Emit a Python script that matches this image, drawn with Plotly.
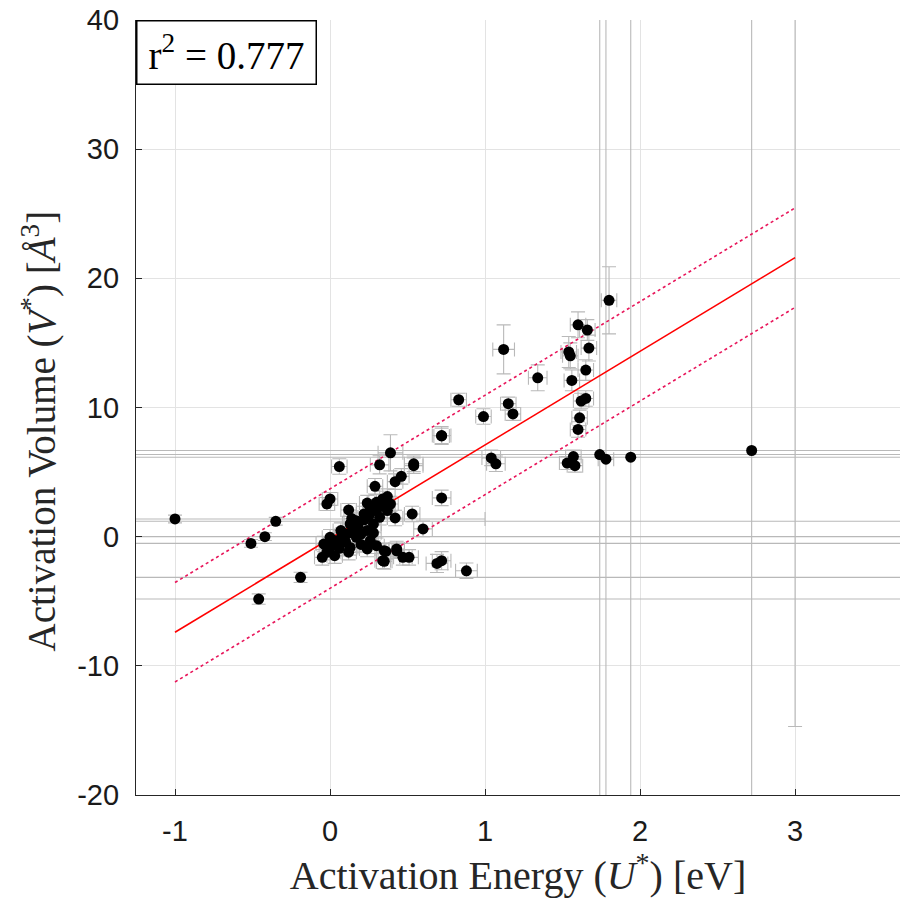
import plotly.graph_objects as go

# ---------------- data ----------------
energy_x = [
    -1.00, -0.51, -0.42, -0.35, -0.19, -0.46,
    0.06, 0.00, -0.02, 0.12, 0.32, 0.39, 0.54, 0.54, 0.46, 0.42, 0.29, 0.37, 0.39,
    0.72, 0.53, 0.42, 0.60, 0.72, 1.04, 1.07,
    0.36, 0.43, 0.35, 0.47, 0.51, 0.69, 0.72, 0.88,
    -0.04, 0.00, 0.07, 0.13, 0.17, 0.22, 0.26, 0.30, 0.34, 0.11, 0.17, 0.24, 0.28,
    0.32, 0.37, 0.04, 0.00, -0.05, 0.03, 0.13, 0.24, 0.35, 0.43, 0.34,
    0.08, 0.15, 0.20, 0.22, 0.25, 0.18, 0.10, 0.06, 0.20, 0.28, 0.30, 0.33,
    0.14, 0.26, 0.12, -0.02, 0.02, 0.24, 0.36, 0.30,
    1.80, 1.60, 1.66, 1.67, 1.12, 1.54, 1.55, 1.34, 1.65, 1.56, 1.65, 1.62,
    1.61, 1.60, 1.15, 1.18, 0.83, 0.99, 0.72,
    1.53, 1.57, 1.58, 1.74, 1.78, 1.94, 2.72, 3.00,
]
volume_y = [
    1.37, -0.52, 0.00, 1.19, -3.15, -4.83,
    5.43, 2.92, 2.53, 2.07, 5.56, 6.49, 5.64, 5.50, 4.67, 4.26, 3.90, 3.10, 2.53,
    3.00, 1.76, 1.45, 0.60, 7.83, 6.10, 5.64,
    -1.14, -1.09, -1.91, -1.60, -1.60, -2.07, -1.86, -2.64,
    -0.57, -0.05, 0.47, 0.98, 1.24, 1.76, 2.27, 2.66, 2.92, 0.21, -0.05, 0.47, 0.98,
    1.50, 2.02, -0.31, -0.83, -1.60, -1.47, -0.83, -0.95, -1.09, -0.95, -1.86,
    0.10, 0.50, 0.20, 1.30, 1.60, 0.80, -0.40, -0.90, -0.60, 0.30, 2.00, 2.40,
    1.40, -0.30, -1.20, -1.20, -0.60, 2.60, 2.50, -0.70,
    18.30, 16.40, 16.00, 14.60, 14.50, 14.30, 14.00, 12.30, 12.90, 12.10, 10.70, 10.50,
    9.20, 8.30, 10.30, 9.50, 10.60, 9.30, 7.80,
    5.70, 6.20, 5.50, 6.36, 6.00, 6.15, 6.67, 45.00,
]
energy_err = [
    2.00, 20.0, 20.0, 20.0, 20.0, 20.0,
    0.05, 0.05, 0.05, 0.05, 0.06, 0.08, 0.06, 0.06, 0.05, 0.05, 0.05, 0.05, 0.05,
    0.06, 0.05, 0.05, 0.06, 0.06, 0.06, 0.06,
    0.05, 0.05, 0.05, 0.06, 0.06, 0.07, 0.06, 0.07,
    0.05, 0.05, 0.05, 0.05, 0.05, 0.05, 0.05, 0.05, 0.05, 0.05, 0.05, 0.05, 0.05,
    0.05, 0.05, 0.05, 0.05, 0.05, 0.05, 0.05, 0.05, 0.05, 0.05, 0.05,
    0.05, 0.05, 0.05, 0.05, 0.05, 0.05, 0.05, 0.05, 0.05, 0.05, 0.05, 0.05,
    0.05, 0.05, 0.05, 0.05, 0.05, 0.05, 0.05, 0.05,
    0.05, 0.05, 0.05, 0.05, 0.07, 0.05, 0.05, 0.06, 0.05, 0.05, 0.05, 0.05,
    0.05, 0.05, 0.05, 0.05, 0.05, 0.05, 0.05,
    0.05, 0.05, 0.05, 20.0, 0.05, 20.0, 20.0, 0.05,
]
volume_err = [
    0.30, 0.30, 0.30, 0.30, 0.40, 0.40,
    0.60, 0.50, 0.50, 0.50, 0.70, 1.40, 0.60, 0.60, 0.60, 0.60, 0.60, 0.60, 0.60,
    0.60, 0.60, 0.60, 0.60, 0.70, 0.60, 0.60,
    0.60, 0.60, 0.60, 0.60, 0.60, 0.70, 0.70, 0.60,
    0.60, 0.60, 0.60, 0.60, 0.60, 0.60, 0.60, 0.60, 0.60, 0.60, 0.60, 0.60, 0.60,
    0.60, 0.60, 0.60, 0.60, 0.60, 0.60, 0.60, 0.60, 0.60, 0.60, 0.60,
    0.60, 0.60, 0.60, 0.60, 0.60, 0.60, 0.60, 0.60, 0.60, 0.60, 0.60, 0.60,
    0.60, 0.60, 0.60, 0.60, 0.60, 0.60, 0.60, 0.60,
    2.60, 1.00, 0.80, 1.00, 1.90, 1.20, 1.00, 1.00, 0.80, 0.80, 0.60, 0.60,
    0.60, 0.60, 0.50, 0.50, 0.50, 0.60, 0.60,
    0.50, 0.50, 0.50, 60.0, 60.0, 60.0, 60.0, 59.7,
]

fit_x = [-1.0, 3.0]
fit_y = [-7.4, 21.6]
band_offset = 3.85

x_tick_vals = [-1, 0, 1, 2, 3]
x_tick_text = ["-1", "0", "1", "2", "3"]
y_tick_vals = [-20, -10, 0, 10, 20, 30, 40]
y_tick_text = ["-20", "-10", "0", "10", "20", "30", "40"]

x_title = "Activation Energy (<i>U</i><sup>*</sup>) [eV]"
y_title = "Activation Volume (<i>V</i><sup>*</sup>) [<i>Å</i><sup>3</sup>]"
r2_text = "r<sup>2</sup> = 0.777"

# ---------------- figure ----------------
fig = go.Figure()

# error bars (underneath everything)
fig.add_trace(go.Scatter(
    x=energy_x, y=volume_y, mode="markers",
    marker=dict(color="rgba(0,0,0,0)", size=1),
    error_x=dict(type="data", array=energy_err, color="#b9b9b9", thickness=1.1, width=7),
    error_y=dict(type="data", array=volume_err, color="#b9b9b9", thickness=1.1, width=7),
    showlegend=False, hoverinfo="skip",
))

# regression line with dotted band
fig.add_trace(go.Scatter(x=fit_x, y=fit_y, mode="lines",
                         line=dict(color="#ff0000", width=1.6), showlegend=False))
fig.add_trace(go.Scatter(x=fit_x, y=[v + band_offset for v in fit_y], mode="lines",
                         line=dict(color="#e8155a", width=1.6, dash="dot"), showlegend=False))
fig.add_trace(go.Scatter(x=fit_x, y=[v - band_offset for v in fit_y], mode="lines",
                         line=dict(color="#e8155a", width=1.6, dash="dot"), showlegend=False))

# points
fig.add_trace(go.Scatter(
    x=energy_x, y=volume_y, mode="markers",
    marker=dict(color="black", size=11, line=dict(width=0)),
    showlegend=False,
))

axis_common = dict(
    showgrid=True, gridcolor="#e3e3e3", gridwidth=1,
    zeroline=False, showline=True, linecolor="#262626", linewidth=1.2,
    ticks="inside", ticklen=6, tickwidth=1.2, tickcolor="#262626",
    tickfont=dict(family="Liberation Sans, Arial, sans-serif", size=29, color="#1a1a1a"),
    mirror=False,
)

serif = "Liberation Serif, DejaVu Serif, serif"

fig.update_layout(
    width=900, height=901,
    margin=dict(l=136, r=0, t=20, b=106),
    paper_bgcolor="white", plot_bgcolor="white",
    xaxis=dict(
        range=[-1.2516, 3.677], tickvals=x_tick_vals, ticktext=x_tick_text,
        ticklabelstandoff=10,
        title=dict(text=x_title, font=dict(family=serif, size=40, color="#262626"), standoff=2),
        **axis_common,
    ),
    yaxis=dict(
        range=[-20, 40], tickvals=y_tick_vals, ticktext=y_tick_text,
        ticklabelstandoff=10,
        **axis_common,
    ),
    annotations=[
        dict(
            text=r2_text, xref="paper", yref="paper", x=0, y=1,
            xanchor="left", yanchor="top", showarrow=False,
            font=dict(family=serif, size=39, color="black"),
            bgcolor="white", bordercolor="black", borderwidth=1.5,
            width=176, height=60, align="center", valign="middle",
        ),
        dict(
            text=y_title, xref="paper", yref="paper", x=-0.126, y=0.47,
            xanchor="center", yanchor="middle", textangle=-90, showarrow=False,
            font=dict(family=serif, size=39, color="#262626"),
        ),
    ],
)

fig.write_html("out.html")
